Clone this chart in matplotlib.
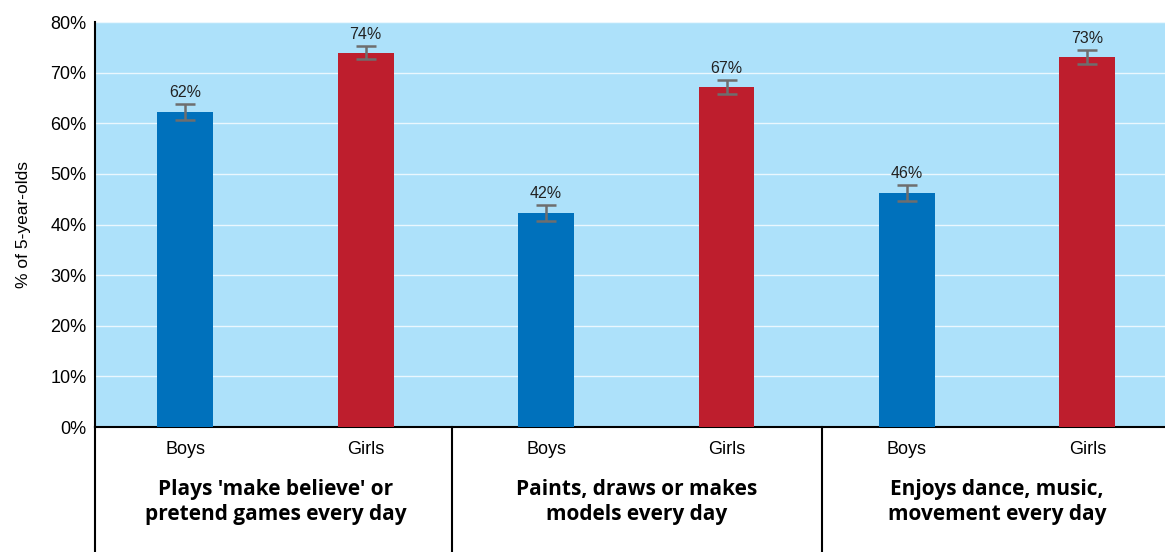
import matplotlib.pyplot as plt
import matplotlib.transforms as mtransforms

plt.rcParams['font.family'] = ['Liberation Sans', 'DejaVu Sans']

groups = ["Plays 'make believe' or\npretend games every day",
          "Paints, draws or makes\nmodels every day",
          "Enjoys dance, music,\nmovement every day"]
sexes = ['Boys', 'Girls']
values = [62.2, 73.9, 42.3, 67.2, 46.2, 73.1]
errors = [1.6, 1.3, 1.6, 1.4, 1.6, 1.3]
labels = ['62%', '74%', '42%', '67%', '46%', '73%']
colors = ['#0071BC', '#BE1E2D'] * 3

fig = plt.figure(figsize=(11.65, 5.52), dpi=100)
ax = fig.add_axes([0.0815, 0.2264, 0.9185, 0.7337])
ax.set_facecolor('#ADE1FA')

x = list(range(len(values)))
ax.bar(x, values, width=0.31, color=colors, zorder=3)
ax.errorbar(x, values, yerr=errors, fmt='none', ecolor='#6E6E6E',
            elinewidth=1.8, capsize=7, capthick=1.8, zorder=4)
for xi, v, e, lab in zip(x, values, errors, labels):
    ax.text(xi, v + e + 0.8, lab, ha='center', va='bottom', fontsize=11.5, color='#222222')

ax.set_ylim(0, 80)
ax.set_xlim(-0.5, 5.43)
ax.set_yticks(range(0, 81, 10))
ax.set_yticklabels([f'{t}%' for t in range(0, 81, 10)], fontsize=13)
ax.tick_params(axis='y', length=0, pad=6)
ax.grid(axis='y', color='#EAF7FE', linewidth=1.0, zorder=1)
ax.set_axisbelow(True)
ax.set_ylabel('% of 5-year-olds', fontsize=12.5, labelpad=14)

ax.set_xticks(x)
ax.set_xticklabels(sexes * 3, fontsize=13)
ax.tick_params(axis='x', length=0, pad=10)

for s in ['top', 'right']:
    ax.spines[s].set_visible(False)
ax.spines['left'].set_linewidth(1.5)
ax.spines['bottom'].set_linewidth(1.5)

trans = mtransforms.blended_transform_factory(ax.transData, ax.transAxes)
for xd in [-0.5, 1.48, 3.53]:
    ax.plot([xd, xd], [0, -0.32], transform=trans, color='black',
            linewidth=1.5, clip_on=False)
for gi, g in enumerate(groups):
    ax.text(2 * gi + 0.5, -0.186, g, transform=trans, ha='center', va='center',
            fontsize=15, fontweight='bold', family=['Open Sans', 'DejaVu Sans'],
            linespacing=1.25)

fig.savefig('out.png', dpi=100)
